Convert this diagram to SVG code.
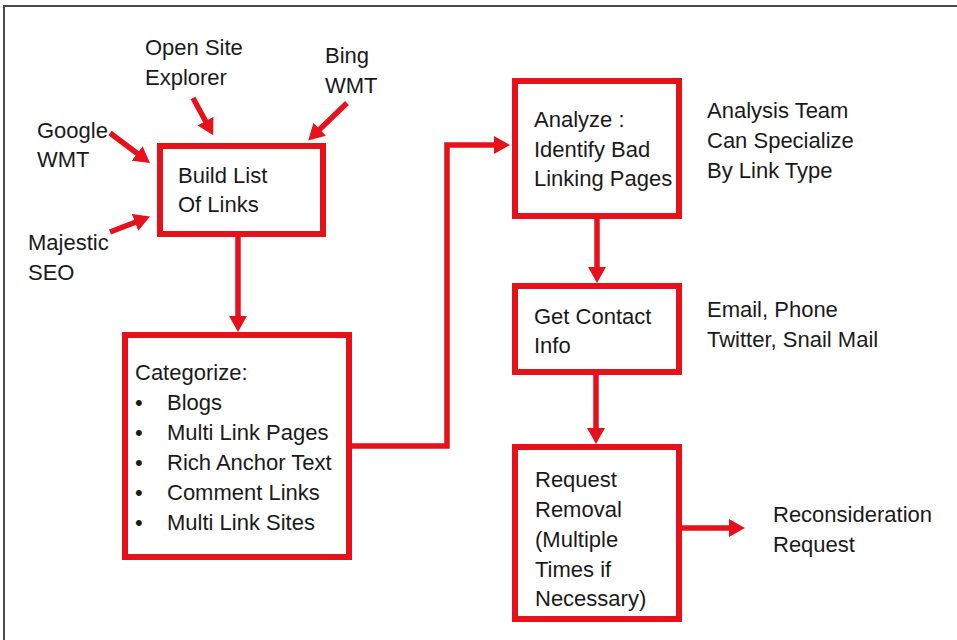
<svg xmlns="http://www.w3.org/2000/svg" width="957" height="640" viewBox="0 0 957 640">
<defs>
<style>
.box{fill:#fff;stroke:#e5111b;stroke-width:6}
.con{fill:none;stroke:#e5111b;stroke-width:5.5;marker-end:url(#ah)}
text{font-family:"Liberation Sans",Arial,sans-serif;font-size:22px;fill:#1a1a1a}
</style>
<marker id="ah" markerUnits="userSpaceOnUse" markerWidth="16" markerHeight="18" refX="1" refY="9" orient="auto">
<path d="M0,0 L16,9 L0,18 z" fill="#e5111b"/>
</marker>
</defs>
<rect width="957" height="640" fill="#fff"/>
<path d="M4,640 L4,6 L957,6" fill="none" stroke="#4a4a4a" stroke-width="2"/>

<g id="connectors">
<path class="con" d="M110,133 L138,154"/>
<path class="con" d="M110,232 L136,222"/>
<path class="con" d="M193,98 L206,122"/>
<path class="con" d="M347,103 L319,130"/>
<path class="con" d="M238,237 L238,317"/>
<path class="con" d="M352,446 L447,446 L447,145 L495,145"/>
<path class="con" d="M597,219 L597,268"/>
<path class="con" d="M596,375 L596,429"/>
<path class="con" d="M682,528 L730,528"/>
</g>

<g id="google"><text x="37" y="138">Google</text><text x="37" y="167">WMT</text></g>
<g id="majestic"><text x="28" y="250">Majestic</text><text x="28" y="280">SEO</text></g>
<g id="opensite"><text x="145" y="55">Open Site</text><text x="145" y="85">Explorer</text></g>
<g id="bing"><text x="325" y="63">Bing</text><text x="325" y="93">WMT</text></g>

<g id="build">
<rect class="box" x="160" y="146" width="163" height="88"/>
<text x="178" y="183">Build List</text>
<text x="178" y="212">Of Links</text>
</g>

<g id="categorize">
<rect class="box" x="125" y="335" width="224" height="222"/>
<text x="135" y="380">Categorize:</text>
<text x="135" y="410">•</text><text x="167" y="410">Blogs</text>
<text x="135" y="440">•</text><text x="167" y="440">Multi Link Pages</text>
<text x="135" y="470">•</text><text x="167" y="470">Rich Anchor Text</text>
<text x="135" y="500">•</text><text x="167" y="500">Comment Links</text>
<text x="135" y="530">•</text><text x="167" y="530">Multi Link Sites</text>
</g>

<g id="analyze">
<rect class="box" x="515" y="81" width="164" height="135"/>
<text x="534" y="127">Analyze :</text>
<text x="534" y="157">Identify Bad</text>
<text x="534" y="186">Linking Pages</text>
</g>
<g id="analysis-note">
<text x="707" y="118">Analysis Team</text>
<text x="707" y="148">Can Specialize</text>
<text x="707" y="178">By Link Type</text>
</g>

<g id="contact">
<rect class="box" x="515" y="286" width="164" height="86"/>
<text x="534" y="324">Get Contact</text>
<text x="534" y="353">Info</text>
</g>
<g id="contact-note">
<text x="707" y="317">Email, Phone</text>
<text x="707" y="347">Twitter, Snail Mail</text>
</g>

<g id="request">
<rect class="box" x="515" y="447" width="164" height="172"/>
<text x="535" y="487">Request</text>
<text x="535" y="517">Removal</text>
<text x="535" y="547">(Multiple</text>
<text x="535" y="577">Times if</text>
<text x="535" y="606">Necessary)</text>
</g>

<g id="reconsideration">
<text x="773" y="522">Reconsideration</text>
<text x="773" y="552">Request</text>
</g>
</svg>
